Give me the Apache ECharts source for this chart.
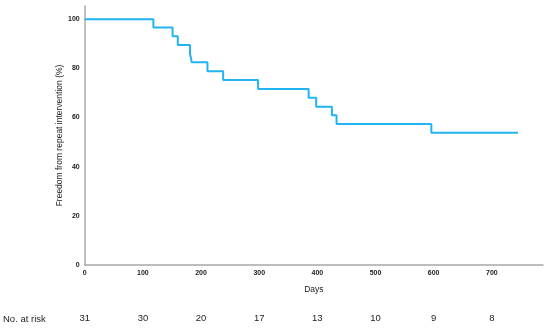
<!DOCTYPE html>
<html><head><meta charset="utf-8">
<script src="https://cdn.jsdelivr.net/npm/echarts@6/dist/echarts.min.js"></script>
<style>html,body{margin:0;padding:0;background:#fff}#c{width:550px;height:330px}</style>
</head><body><div id="c"></div>
<script>
var days = [0, 118, 151, 160, 181, 184, 211, 238, 298, 385, 398, 425, 433, 596, 745];
var survival = [100, 96.7, 93.1, 89.5, 86.0, 82.5, 78.8, 75.3, 71.6, 68.1, 64.4, 60.9, 57.4, 53.8, 53.8];
var riskTimes = [0, 100, 200, 300, 400, 500, 600, 700];
var riskCounts = [31, 30, 20, 17, 13, 10, 9, 8];

var chart = echarts.init(document.getElementById('c'));
var tickFont = {fontFamily: 'Liberation Sans', fontWeight: 'bold', fontSize: 7, color: '#222'};
chart.setOption({
  animation: false,
  grid: {left: 84, right: 7, top: 6, bottom: 65},
  xAxis: [{
    type: 'value', min: 0, max: 788, interval: 100,
    name: 'Days', nameLocation: 'middle', nameGap: 20, nameMoveOverlap: false,
    nameTextStyle: {fontFamily: 'Liberation Sans', fontSize: 8.5, color: '#222'},
    axisLine: {show: true, lineStyle: {color: '#a8a8a8', width: 1.5}},
    axisTick: {show: false}, splitLine: {show: false},
    axisLabel: Object.assign({margin: 5, formatter: function (v) { return v % 100 === 0 ? v : ''; }}, tickFont)
  }, {
    type: 'value', min: 0, max: 788, interval: 100, position: 'bottom', offset: 48,
    name: 'No. at risk', nameLocation: 'start', nameGap: 39, nameMoveOverlap: false,
    nameTextStyle: {fontFamily: 'Liberation Sans', fontSize: 9.5, color: '#222', verticalAlign: 'top', padding: [1, 0, 0, 0]},
    axisLine: {show: false}, axisTick: {show: false}, splitLine: {show: false},
    axisLabel: {fontFamily: 'Liberation Sans', fontSize: 9.5, color: '#222', margin: 0,
      formatter: function (v) { var i = riskTimes.indexOf(v); return i >= 0 ? String(riskCounts[i]) : ''; }}
  }],
  yAxis: {
    type: 'value', min: 0, max: 105.4, interval: 20,
    name: 'Freedom from repeat intervention (%)', nameLocation: 'middle', nameGap: 21, nameMoveOverlap: false,
    nameTextStyle: {fontFamily: 'Liberation Sans', fontSize: 8.5, color: '#222'},
    axisLine: {show: true, lineStyle: {color: '#a8a8a8', width: 1.5}},
    axisTick: {show: false}, splitLine: {show: false},
    axisLabel: Object.assign({margin: 5, formatter: function (v) { return v % 20 === 0 ? v : ''; }}, tickFont)
  },
  series: [{
    type: 'line', step: 'end', showSymbol: false, symbol: 'none',
    data: days.map(function (d, i) { return [d, survival[i]]; }),
    lineStyle: {color: '#22b4f0', width: 2}
  }]
});
</script></body></html>
